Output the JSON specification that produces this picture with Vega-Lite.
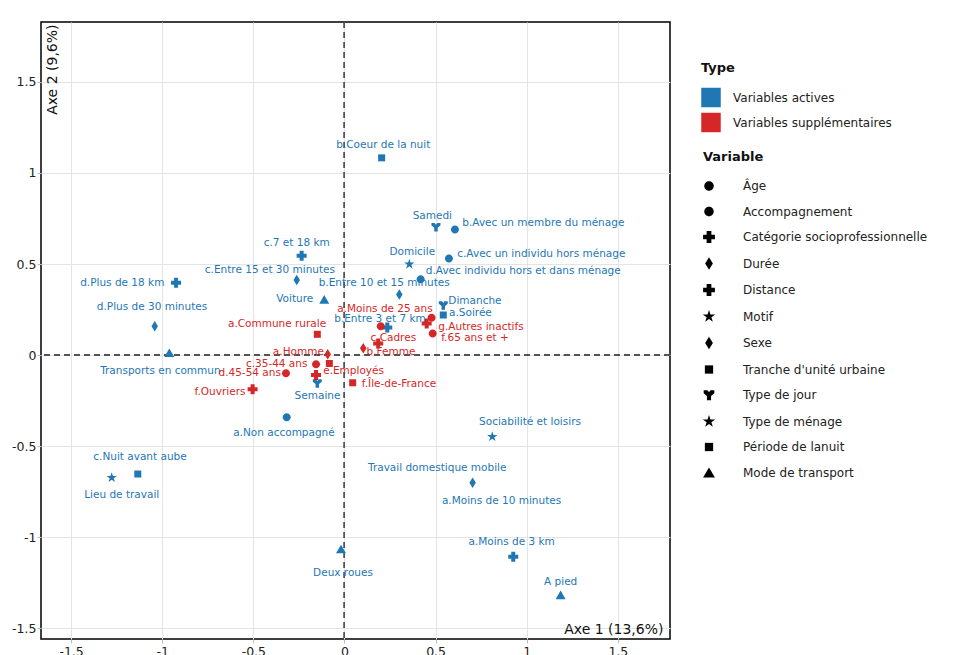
{
  "$schema": "https://vega.github.io/schema/vega-lite/v6.json",
  "width": 629,
  "height": 617,
  "autosize": {"type": "none"},
  "padding": {"left": 41, "top": 22, "right": 293, "bottom": 16},
  "background": "white",
  "config": {
    "view": {"stroke": "black", "strokeWidth": 1.5},
    "font": "DejaVu Sans",
    "axis": {
      "labelFont": "DejaVu Sans",
      "labelFontSize": 12.5,
      "labelColor": "#222",
      "labelExpr": "'' + datum.value",
      "grid": true,
      "gridColor": "#e4e4e4",
      "gridWidth": 1,
      "domain": false,
      "ticks": true,
      "tickColor": "#bbbbbb",
      "tickSize": 4,
      "titleFont": "DejaVu Sans",
      "titleFontSize": 14,
      "titleFontWeight": "normal",
      "titleColor": "#111"
    },
    "legend": {
      "labelFont": "DejaVu Sans",
      "labelFontSize": 12,
      "labelColor": "#222",
      "labelLimit": 400,
      "titleFont": "DejaVu Sans",
      "titleFontSize": 13,
      "titleFontWeight": "bold",
      "titleColor": "#111"
    }
  },
  "data": {
    "values": [
      {"label": "b.Coeur de la nuit", "Type": "Variables actives", "Variable": "Période de lanuit", "x": 0.204, "y": 1.083, "lx": 0.213, "ly": 1.153},
      {"label": "Samedi", "Type": "Variables actives", "Variable": "Type de jour", "x": 0.502, "y": 0.704, "lx": 0.482, "ly": 0.765},
      {"label": "b.Avec un membre du ménage", "Type": "Variables actives", "Variable": "Accompagnement", "x": 0.606, "y": 0.69, "lx": 1.091, "ly": 0.723},
      {"label": "Domicile", "Type": "Variables actives", "Variable": "Motif", "x": 0.356, "y": 0.499, "lx": 0.372, "ly": 0.567},
      {"label": "c.Avec un individu hors ménage", "Type": "Variables actives", "Variable": "Accompagnement", "x": 0.573, "y": 0.531, "lx": 1.08, "ly": 0.554},
      {"label": "d.Avec individu hors et dans ménage", "Type": "Variables actives", "Variable": "Accompagnement", "x": 0.418, "y": 0.417, "lx": 0.981, "ly": 0.463},
      {"label": "b.Entre 10 et 15 minutes", "Type": "Variables actives", "Variable": "Durée", "x": 0.301, "y": 0.333, "lx": 0.218, "ly": 0.394},
      {"label": "Dimanche", "Type": "Variables actives", "Variable": "Type de jour", "x": 0.542, "y": 0.274, "lx": 0.716, "ly": 0.296},
      {"label": "a.Soirée", "Type": "Variables actives", "Variable": "Période de lanuit", "x": 0.542, "y": 0.22, "lx": 0.691, "ly": 0.229},
      {"label": "c.7 et 18 km", "Type": "Variables actives", "Variable": "Distance", "x": -0.235, "y": 0.545, "lx": -0.262, "ly": 0.613},
      {"label": "c.Entre 15 et 30 minutes", "Type": "Variables actives", "Variable": "Durée", "x": -0.262, "y": 0.412, "lx": -0.409, "ly": 0.467},
      {"label": "d.Plus de 18 km", "Type": "Variables actives", "Variable": "Distance", "x": -0.924, "y": 0.397, "lx": -1.219, "ly": 0.395},
      {"label": "Voiture", "Type": "Variables actives", "Variable": "Mode de transport", "x": -0.111, "y": 0.306, "lx": -0.273, "ly": 0.307},
      {"label": "d.Plus de 30 minutes", "Type": "Variables actives", "Variable": "Durée", "x": -1.041, "y": 0.159, "lx": -1.056, "ly": 0.262},
      {"label": "Transports en commun", "Type": "Variables actives", "Variable": "Mode de transport", "x": -0.961, "y": 0.013, "lx": -1.01, "ly": -0.088},
      {"label": "Semaine", "Type": "Variables actives", "Variable": "Type de jour", "x": -0.149, "y": -0.155, "lx": -0.148, "ly": -0.225},
      {"label": "a.Non accompagné", "Type": "Variables actives", "Variable": "Accompagnement", "x": -0.317, "y": -0.342, "lx": -0.332, "ly": -0.43},
      {"label": "c.Nuit avant aube", "Type": "Variables actives", "Variable": "Période de lanuit", "x": -1.134, "y": -0.653, "lx": -1.122, "ly": -0.558},
      {"label": "Lieu de travail", "Type": "Variables actives", "Variable": "Motif", "x": -1.277, "y": -0.673, "lx": -1.222, "ly": -0.768},
      {"label": "Deux roues", "Type": "Variables actives", "Variable": "Mode de transport", "x": -0.019, "y": -1.065, "lx": -0.008, "ly": -1.196},
      {"label": "Sociabilité et loisirs", "Type": "Variables actives", "Variable": "Motif", "x": 0.811, "y": -0.448, "lx": 1.018, "ly": -0.366},
      {"label": "Travail domestique mobile", "Type": "Variables actives", "Variable": "Motif", "x": null, "y": null, "lx": 0.509, "ly": -0.622},
      {"label": "a.Moins de 10 minutes", "Type": "Variables actives", "Variable": "Durée", "x": 0.703, "y": -0.701, "lx": 0.862, "ly": -0.8},
      {"label": "a.Moins de 3 km", "Type": "Variables actives", "Variable": "Distance", "x": 0.926, "y": -1.107, "lx": 0.917, "ly": -1.025},
      {"label": "A pied", "Type": "Variables actives", "Variable": "Mode de transport", "x": 1.186, "y": -1.317, "lx": 1.186, "ly": -1.244},
      {"label": "b.Entre 3 et 7 km", "Type": "Variables actives", "Variable": "Distance", "x": 0.235, "y": 0.152, "lx": 0.195, "ly": 0.198},
      {"label": "a.Commune rurale", "Type": "Variables supplémentaires", "Variable": "Tranche d'unité urbaine", "x": -0.149, "y": 0.114, "lx": -0.37, "ly": 0.17},
      {"label": "a.Homme", "Type": "Variables supplémentaires", "Variable": "Sexe", "x": -0.092, "y": 0.004, "lx": -0.253, "ly": 0.015},
      {"label": "c.35-44 ans", "Type": "Variables supplémentaires", "Variable": "Âge", "x": -0.156, "y": -0.051, "lx": -0.372, "ly": -0.051},
      {"label": "d.45-54 ans", "Type": "Variables supplémentaires", "Variable": "Âge", "x": -0.321, "y": -0.1, "lx": -0.52, "ly": -0.1},
      {"label": "e.Employés", "Type": "Variables supplémentaires", "Variable": "Catégorie socioprofessionnelle", "x": -0.156, "y": -0.11, "lx": 0.05, "ly": -0.086},
      {"label": "", "Type": "Variables supplémentaires", "Variable": "Tranche d'unité urbaine", "x": -0.083, "y": -0.046, "lx": null, "ly": null},
      {"label": "f.Ouvriers", "Type": "Variables supplémentaires", "Variable": "Catégorie socioprofessionnelle", "x": -0.504, "y": -0.188, "lx": -0.683, "ly": -0.201},
      {"label": "f.Île-de-France", "Type": "Variables supplémentaires", "Variable": "Tranche d'unité urbaine", "x": 0.045, "y": -0.152, "lx": 0.299, "ly": -0.159},
      {"label": "a.Moins de 25 ans", "Type": "Variables supplémentaires", "Variable": "Âge", "x": 0.199, "y": 0.159, "lx": 0.222, "ly": 0.252},
      {"label": "", "Type": "Variables supplémentaires", "Variable": "Âge", "x": 0.478, "y": 0.205, "lx": null, "ly": null},
      {"label": "g.Autres inactifs", "Type": "Variables supplémentaires", "Variable": "Catégorie socioprofessionnelle", "x": 0.451, "y": 0.174, "lx": 0.749, "ly": 0.155},
      {"label": "f.65 ans et +", "Type": "Variables supplémentaires", "Variable": "Âge", "x": 0.484, "y": 0.119, "lx": 0.716, "ly": 0.092},
      {"label": "c.Cadres", "Type": "Variables supplémentaires", "Variable": "Catégorie socioprofessionnelle", "x": 0.185, "y": 0.064, "lx": 0.268, "ly": 0.095},
      {"label": "b.Femme", "Type": "Variables supplémentaires", "Variable": "Sexe", "x": 0.103, "y": 0.037, "lx": 0.255, "ly": 0.018}
    ]
  },
  "layer": [
    {
      "mark": {"type": "rule", "color": "#555", "strokeWidth": 1, "strokeDash": [6, 4]},
      "encoding": {"x": {"datum": 0, "type": "quantitative"}}
    },
    {
      "mark": {"type": "rule", "color": "#555", "strokeWidth": 1, "strokeDash": [6, 4]},
      "encoding": {"y": {"datum": 0, "type": "quantitative"}}
    },
    {
      "mark": {"type": "point", "filled": true, "opacity": 1, "size": 100},
      "encoding": {
        "x": {
          "field": "x", "type": "quantitative",
          "scale": {"domain": [-1.665, 1.786], "nice": false, "zero": false},
          "axis": {
            "values": [-1.5, -1, -0.5, 0, 0.5, 1, 1.5],
            "title": "Axe 1 (13,6%)",
            "titleX": 622, "titleY": -6, "titleAlign": "right", "titleBaseline": "alphabetic", "titleAngle": 0,
            "labelPadding": 2
          }
        },
        "y": {
          "field": "y", "type": "quantitative",
          "scale": {"domain": [-1.559, 1.829], "nice": false, "zero": false},
          "axis": {
            "values": [-1.5, -1, -0.5, 0, 0.5, 1, 1.5],
            "title": "Axe 2 (9,6%)",
            "titleX": 4, "titleY": 2, "titleAlign": "right", "titleBaseline": "top", "titleAngle": -90,
            "labelPadding": 1
          }
        },
        "color": {
          "field": "Type", "type": "nominal",
          "scale": {"domain": ["Variables actives", "Variables supplémentaires"], "range": ["#1f77b4", "#d62728"]},
          "legend": {
            "title": "Type", "orient": "none", "legendX": 660, "legendY": 39.5,
            "symbolType": "square", "symbolSize": 380, "symbolStrokeWidth": 0,
            "titlePadding": 13, "rowPadding": 5, "labelOffset": 12
          }
        },
        "shape": {
          "field": "Variable", "type": "nominal",
          "scale": {
            "domain": ["Âge", "Accompagnement", "Catégorie socioprofessionnelle", "Durée", "Distance", "Motif", "Sexe", "Tranche d'unité urbaine", "Type de jour", "Type de ménage", "Période de lanuit", "Mode de transport"],
            "range": [
              "M-0.8,0A0.8,0.8 0 1,0 0.8,0A0.8,0.8 0 1,0 -0.8,0Z",
              "M-0.8,0A0.8,0.8 0 1,0 0.8,0A0.8,0.8 0 1,0 -0.8,0Z",
              "cross",
              "M0,-1.05L0.65,0L0,1.05L-0.65,0Z",
              "cross",
              "M0,-1.1L0.247,-0.34L1.046,-0.34L0.4,0.13L0.647,0.89L0,0.42L-0.647,0.89L-0.4,0.13L-1.046,-0.34L-0.247,-0.34Z",
              "M0,-1.05L0.65,0L0,1.05L-0.65,0Z",
              "M-0.7,-0.7L0.7,-0.7L0.7,0.7L-0.7,0.7Z",
              "M-0.9,-0.8L-0.25,-0.8L0,-0.45L0.25,-0.8L0.9,-0.8L0.9,-0.3L0.35,0.15L0.35,0.9L-0.35,0.9L-0.35,0.15L-0.9,-0.3Z",
              "M0,-1.1L0.247,-0.34L1.046,-0.34L0.4,0.13L0.647,0.89L0,0.42L-0.647,0.89L-0.4,0.13L-1.046,-0.34L-0.247,-0.34Z",
              "M-0.7,-0.7L0.7,-0.7L0.7,0.7L-0.7,0.7Z",
              "triangle-up"
            ]
          },
          "legend": {
            "title": "Variable", "orient": "none", "legendX": 662, "legendY": 129,
            "symbolSize": 140, "symbolFillColor": "black", "symbolStrokeColor": "black", "symbolStrokeWidth": 0,
            "titlePadding": 16, "rowPadding": 13.5, "labelOffset": 28,
            "encode": {"symbols": {"update": {"fill": {"value": "black"}, "stroke": {"value": "black"}}}}
          }
        }
      }
    },
    {
      "mark": {"type": "text", "font": "DejaVu Sans", "fontSize": 10.5, "align": "center", "baseline": "middle"},
      "encoding": {
        "x": {"field": "lx", "type": "quantitative"},
        "y": {"field": "ly", "type": "quantitative"},
        "text": {"field": "label"},
        "color": {"field": "Type", "type": "nominal"}
      }
    }
  ]
}
